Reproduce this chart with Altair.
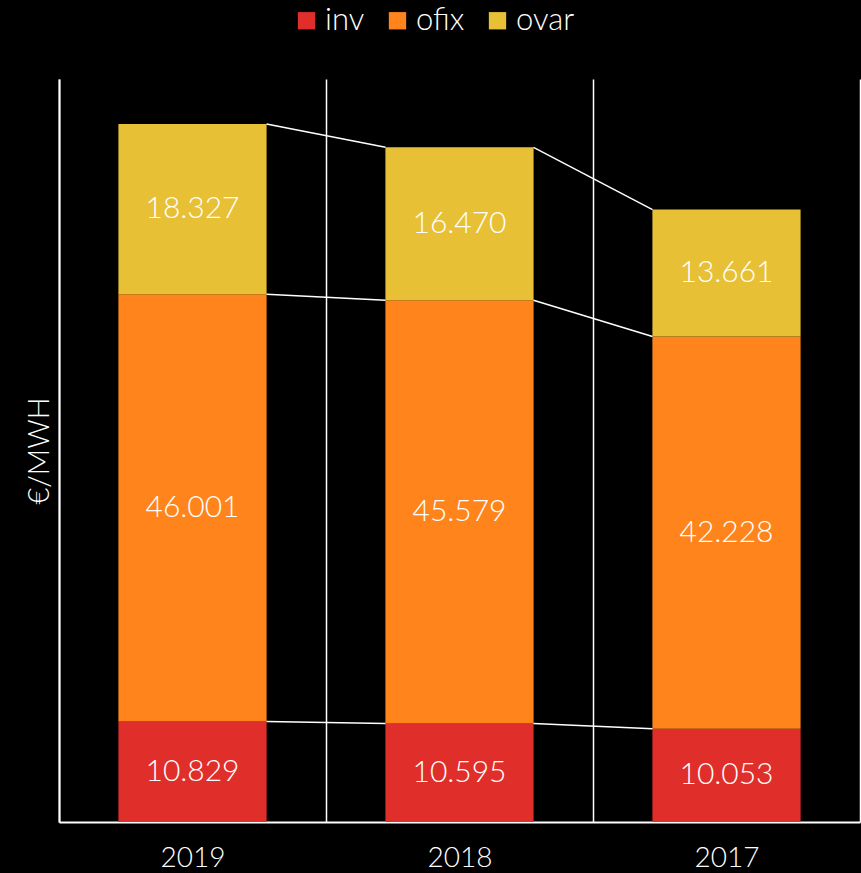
import altair as alt
import pandas as pd

years = ["2019", "2018", "2017"]
series = ["inv", "ofix", "ovar"]
inv = [10.829, 10.595, 10.053]
ofix = [46.001, 45.579, 42.228]
ovar = [18.327, 16.470, 13.661]
colors = ["#E02F2A", "#FF841C", "#E8C036"]

FONT = "Lato"

rows = []
for i, yr in enumerate(years):
    base = 0.0
    for k, (s, vals) in enumerate(zip(series, [inv, ofix, ovar])):
        v = vals[i]
        rows.append(dict(year=yr, series=s, order=k, value=v,
                         y0=base, y1=base + v, mid=base + v / 2))
        base += v
df = pd.DataFrame(rows)

lines = []
for i in range(len(years) - 1):
    a = df[df.year == years[i]]
    b = df[df.year == years[i + 1]]
    for s in series:
        lines.append(dict(frm=years[i], to=years[i + 1],
                          ya=float(a[a.series == s].y1.iloc[0]),
                          yb=float(b[b.series == s].y1.iloc[0])))
ldf = pd.DataFrame(lines)

xscale = alt.Scale(domain=years, paddingInner=0, paddingOuter=0)
yscale = alt.Scale(domain=[0, 80], nice=False)

bars = alt.Chart(df).mark_bar(width=alt.RelativeBandSize(0.555)).encode(
    x=alt.X("year:N", scale=xscale, sort=years,
            axis=alt.Axis(title=None, labelAngle=0, labelColor="white",
                          labelFontSize=28, labelFont=FONT, labelFontWeight=300,
                          ticks=False,
                          domainColor="white", domainWidth=2, grid=True,
                          gridColor="white", gridWidth=1.5, tickBand="extent",
                          labelPadding=22)),
    y=alt.Y("y1:Q", scale=yscale,
            axis=alt.Axis(labels=False, ticks=False, grid=False,
                          domainColor="white", domainWidth=2,
                          title="€/MWH", titleColor="white", titleFontSize=29,
                          titleFont=FONT, titleFontWeight=300,
                          titlePadding=5)),
    y2="y0:Q",
    color=alt.Color("series:N", scale=alt.Scale(domain=series, range=colors),
                    legend=alt.Legend(orient="none", legendX=232, legendY=-74,
                                      direction="horizontal", title=None,
                                      symbolType="square", symbolSize=300,
                                      symbolStrokeWidth=0, labelFontSize=31,
                                      labelColor="white", labelFont=FONT,
                                      labelFontWeight=300, labelOffset=3,
                                      columnPadding=17)),
)

labels = alt.Chart(df).mark_text(color="white", fontSize=30, font=FONT,
                                 fontWeight=300).encode(
    x=alt.X("year:N", scale=xscale, sort=years),
    y=alt.Y("mid:Q", scale=yscale),
    text=alt.Text("value:Q", format=".3f"),
)

rules = alt.Chart(ldf).mark_rule(color="white", strokeWidth=1.5,
                                 xOffset=74, x2Offset=-74).encode(
    x=alt.X("frm:N", scale=xscale, sort=years),
    x2="to:N",
    y=alt.Y("ya:Q", scale=yscale),
    y2="yb:Q",
)

chart = alt.layer(bars, rules, labels).properties(
    width=801, height=743,
    background="black",
    padding={"left": 59, "top": 79, "right": 1, "bottom": 51},
    autosize=alt.AutoSizeParams(type="none"),
).configure_view(stroke=None)

chart.save("out.html", embed_options={"renderer": "svg", "actions": False})
